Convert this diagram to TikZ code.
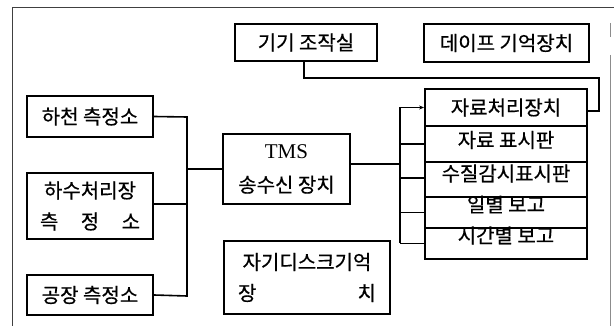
\documentclass[tikz,border=0pt]{standalone}
\usepackage{fontspec}
\newfontfamily\kr[FakeBold=0.6]{Noto Sans CJK KR}
\setmainfont{Liberation Serif}
\usetikzlibrary{arrows.meta}
\newcommand{\spreadtxt}[2]{\makebox[#1][s]{#2}}
\begin{document}
\begin{tikzpicture}[x=1pt,y=-1pt,
  box/.style={draw,line width=1.8pt,inner sep=0pt,font=\kr\fontsize{20}{31}\selectfont,align=center},
  rowbox/.style={draw,line width=1.8pt,inner sep=0pt,minimum width=162pt},
  rowtext/.style={inner sep=0pt,font=\kr\fontsize{20}{22}\selectfont},
  conn/.style={line width=1.6pt},
  frameline/.style={line width=1pt,black!75}]
\useasboundingbox (0,0) rectangle (614,326);
% frame
\draw[frameline] (12,8) -- (614,8);
\draw[frameline] (12,8) -- (12,326);
\draw[black!45,line width=0.8pt] (610,23) -- (610,37);
\draw[black!45,line width=0.8pt] (610,55) -- (610,326);
% top boxes
\node[box,minimum width=142pt,minimum height=37pt] (kiki) at (306,42.5) {기기 조작실};
\node[box,minimum width=165pt,minimum height=38pt] (tape) at (506.5,43) {데이프 기억장치};
% left boxes
\node[box,minimum width=126pt,minimum height=41pt] (hacheon) at (90,116.5) {하천 측정소};
\node[box,minimum width=126pt,minimum height=66pt] (hasu) at (90,206) {하수처리장\\\spreadtxt{100pt}{측\hfill 정\hfill 소}};
\node[box,minimum width=126pt,minimum height=40pt] (factory) at (90,295) {공장 측정소};
% middle
\node[box,minimum width=127pt,minimum height=70pt] (tms) at (286.5,169) {{\rmfamily\fontsize{21}{24}\selectfont TMS}\\[3pt]송수신 장치};
\node[box,minimum width=166pt,minimum height=73pt] (disk) at (307,277.5) {자기디스크기억\\\spreadtxt{138pt}{장\hfill 치}};
% right stack
\node[rowbox,minimum height=37pt] (r1) at (506,107.5) {};
\node[rowbox,minimum height=36pt] (r2) at (506,144) {};
\node[rowbox,minimum height=35pt] (r3) at (506,179.5) {};
\node[rowbox,minimum height=31pt] (r4) at (506,212.5) {};
\node[rowbox,minimum height=31pt] (r5) at (506,243.5) {};
\node[rowtext] (t1) at ([yshift=0pt]r1.center) {자료처리장치};
\node[rowtext] (t2) at ([yshift=4pt]r2.center) {자료 표시판};
\node[rowtext] (t3) at ([yshift=6pt]r3.center) {수질감시표시판};
\node[rowtext] (t4) at ([yshift=8pt]r4.center) {일별 보고};
\node[rowtext] (t5) at ([yshift=8pt]r5.center) {시간별 보고};
% left bus
\coordinate (lbtop) at (187,117);
\coordinate (lbbot) at (187,296);
\coordinate (lbmid) at (187,169);
\draw[conn] (hacheon.east) -- (lbtop) -- (lbbot) -- (factory.east);
\draw[conn] ([yshift=2pt]hasu.east) -- ([yshift=2pt]hasu.east -| lbtop);
\draw[conn] (lbmid) -- (tms.west);
% right bus
\coordinate (rb) at (400,164);
\draw[conn] ([yshift=5pt]tms.east) -- (rb);
\draw[conn] (r1.west -| rb) -- (r5.west -| rb);
\draw[conn,-{Stealth[length=5pt,width=4pt]}] (r1.west -| rb) -- (r1.west);
\draw[conn] (r2.west -| rb) -- (r2.west);
\draw[conn] ([yshift=1.5pt]r3.west -| rb) -- ([yshift=1.5pt]r3.west);
\draw[conn] (r4.west -| rb) -- (r4.west);
\draw[conn] (r5.west -| rb) -- (r5.west);
% kiki to r1
\coordinate (kdown) at (kiki.south -| 304,0);
\coordinate (kturn) at (304,78);
\coordinate (kright) at (599,78);
\coordinate (kback) at (599,111);
\draw[conn] (kdown) -- (kturn) -- (kright) -- (kback) -- ([yshift=-3.5pt]r1.east);
\end{tikzpicture}
\end{document}
